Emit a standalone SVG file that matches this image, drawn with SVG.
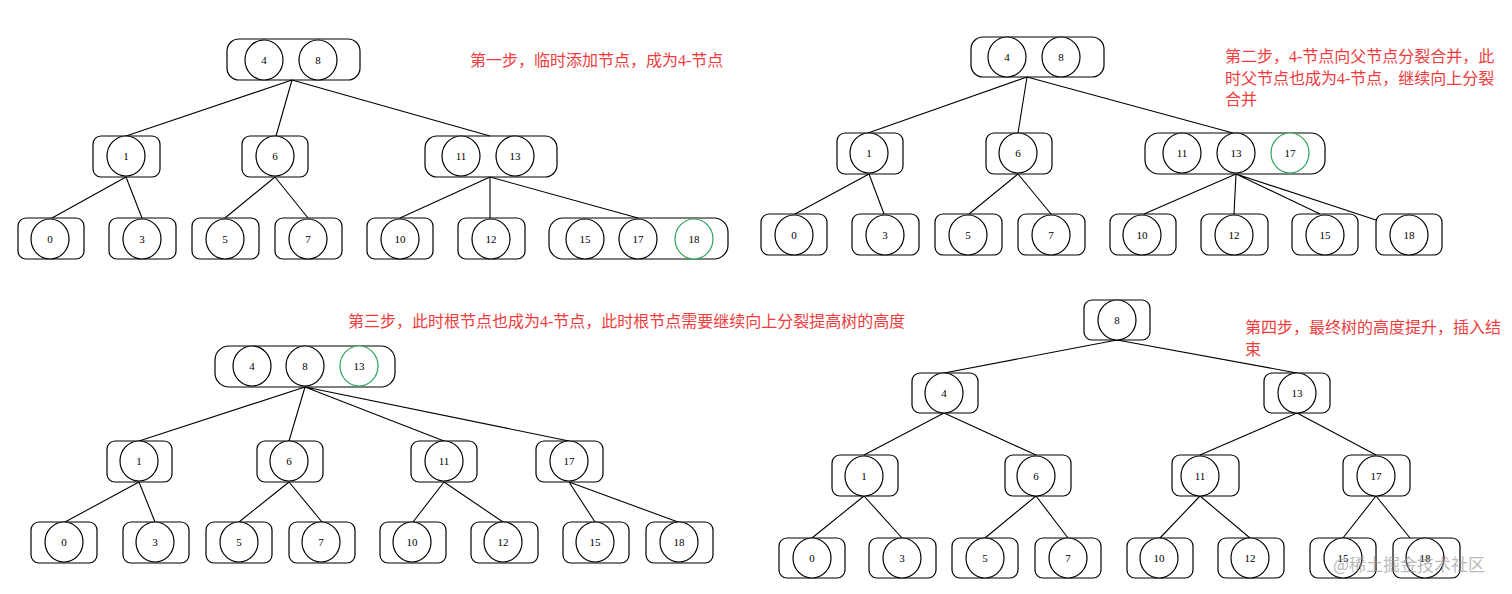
<svg xmlns="http://www.w3.org/2000/svg" width="1512" height="594" viewBox="0 0 1512 594">
<style>
.b{fill:none;stroke:#000;stroke-width:1.2}
.c{fill:#fff;stroke:#000;stroke-width:1.2}
.g{fill:#fff;stroke:#2aa55a;stroke-width:1.2}
.t{font-family:"Liberation Serif",serif;font-size:11px;text-anchor:middle;dominant-baseline:central}
.r{font-family:"Liberation Serif","Noto Sans CJK SC",serif;font-size:16px;fill:#f03c3c}
.e{stroke:#000;stroke-width:1.1;fill:none}
ellipse{rx:19px}
</style>
<rect width="1512" height="594" fill="#fff"/>
<g id="connectors">
<path class="e" d="M292 80L126 136M292 80L276 136M292 80L490 136M126 177L52 218M126 177L142 218M275 177L225 218M275 177L308 218M490 177L400 218M490 177L490 218M490 177L638 218"/>
<path class="e" d="M1027 77L868 133M1027 77L1018 133M1027 77L1233 133M869 174L795 214M869 174L884 214M1018 174L969 214M1018 174L1051 214M1236 174L1144 214M1236 174L1234 214M1236 174L1320 214M1236 174L1376 220"/>
<path class="e" d="M305 387L139 441M305 387L289 441M305 387L444 441M305 387L569 441M139 482L65 522M139 482L155 522M289 482L239 522M289 482L322 522M444 482L413 522M444 482L503 522M569 482L595 522M569 482L678 522"/>
<path class="e" d="M1117 340L944 373M1117 340L1297 373M944 413L864 455M944 413L1036 455M1297 413L1200 455M1297 413L1376 455M864 496L812 538M864 496L902 538M1036 496L985 538M1036 496L1068 538M1200 496L1160 538M1200 496L1250 538M1376 496L1343 538M1376 496L1410 538"/>
</g>
<text class="r" x="470" y="66">第一步，临时添加节点，成为4-节点</text>
<text class="r" x="1225" y="62">第二步，4-节点向父节点分裂合并，此</text>
<text class="r" x="1225" y="84">时父节点也成为4-节点，继续向上分裂</text>
<text class="r" x="1225" y="105">合并</text>
<text class="r" x="348" y="327">第三步，此时根节点也成为4-节点，此时根节点需要继续向上分裂提高树的高度</text>
<text class="r" x="1245" y="333">第四步，最终树的高度提升，插入结</text>
<text class="r" x="1245" y="355">束</text>
<!-- Panel 1 -->
<g id="p1-root"><rect class="b" x="227" y="39" width="133" height="41" rx="12"/><ellipse class="c" cx="264" cy="60" rx="19" ry="20"/><ellipse class="c" cx="318" cy="60" rx="19" ry="20"/><text class="t" x="264" y="60">4</text><text class="t" x="318" y="60">8</text></g>
<g id="p1-n1"><rect class="b" x="93" y="136" width="67" height="41" rx="8"/><ellipse class="c" cx="126" cy="156" rx="19" ry="20"/><text class="t" x="126" y="156">1</text></g>
<g id="p1-n6"><rect class="b" x="242" y="136" width="66" height="41" rx="8"/><ellipse class="c" cx="275" cy="156" rx="19" ry="20"/><text class="t" x="275" y="156">6</text></g>
<g id="p1-n11"><rect class="b" x="425" y="136" width="132" height="41" rx="12"/><ellipse class="c" cx="461" cy="156" rx="19" ry="20"/><ellipse class="c" cx="515" cy="156" rx="19" ry="20"/><text class="t" x="461" y="156">11</text><text class="t" x="515" y="156">13</text></g>
<g id="p1-n0"><rect class="b" x="18" y="218" width="66" height="41" rx="8"/><ellipse class="c" cx="50" cy="239" rx="19" ry="20"/><text class="t" x="50" y="239">0</text></g>
<g id="p1-n3"><rect class="b" x="109" y="218" width="67" height="41" rx="8"/><ellipse class="c" cx="142" cy="239" rx="19" ry="20"/><text class="t" x="142" y="239">3</text></g>
<g id="p1-n5"><rect class="b" x="192" y="218" width="67" height="41" rx="8"/><ellipse class="c" cx="225" cy="239" rx="19" ry="20"/><text class="t" x="225" y="239">5</text></g>
<g id="p1-n7"><rect class="b" x="275" y="218" width="67" height="41" rx="8"/><ellipse class="c" cx="308" cy="239" rx="19" ry="20"/><text class="t" x="308" y="239">7</text></g>
<g id="p1-n10"><rect class="b" x="367" y="218" width="66" height="41" rx="8"/><ellipse class="c" cx="400" cy="239" rx="19" ry="20"/><text class="t" x="400" y="239">10</text></g>
<g id="p1-n12"><rect class="b" x="458" y="218" width="67" height="41" rx="8"/><ellipse class="c" cx="491" cy="239" rx="19" ry="20"/><text class="t" x="491" y="239">12</text></g>
<g id="p1-n15"><rect class="b" x="549" y="218" width="179" height="41" rx="14"/><ellipse class="c" cx="585" cy="239" rx="19" ry="20"/><ellipse class="c" cx="638" cy="239" rx="19" ry="20"/><ellipse class="g" cx="694" cy="239" rx="20" ry="20"/><text class="t" x="585" y="239">15</text><text class="t" x="638" y="239">17</text><text class="t" x="694" y="239">18</text></g>
<!-- Panel 2 -->
<g id="p2-root"><rect class="b" x="971" y="37" width="133" height="40" rx="12"/><ellipse class="c" cx="1007" cy="57" rx="19" ry="20"/><ellipse class="c" cx="1061" cy="57" rx="19" ry="20"/><text class="t" x="1007" y="57">4</text><text class="t" x="1061" y="57">8</text></g>
<g id="p2-n1"><rect class="b" x="837" y="133" width="66" height="41" rx="8"/><ellipse class="c" cx="869" cy="153" rx="19" ry="20"/><text class="t" x="869" y="153">1</text></g>
<g id="p2-n6"><rect class="b" x="986" y="133" width="66" height="41" rx="8"/><ellipse class="c" cx="1018" cy="153" rx="19" ry="20"/><text class="t" x="1018" y="153">6</text></g>
<g id="p2-n11"><rect class="b" x="1145" y="133" width="180" height="41" rx="14"/><ellipse class="c" cx="1182" cy="153" rx="19" ry="20"/><ellipse class="c" cx="1236" cy="153" rx="19" ry="20"/><ellipse class="g" cx="1290" cy="153" rx="20" ry="20"/><text class="t" x="1182" y="153">11</text><text class="t" x="1236" y="153">13</text><text class="t" x="1290" y="153">17</text></g>
<g id="p2-n0"><rect class="b" x="761" y="214" width="66" height="41" rx="8"/><ellipse class="c" cx="794" cy="235" rx="19" ry="20"/><text class="t" x="794" y="235">0</text></g>
<g id="p2-n3"><rect class="b" x="852" y="214" width="67" height="41" rx="8"/><ellipse class="c" cx="885" cy="235" rx="19" ry="20"/><text class="t" x="885" y="235">3</text></g>
<g id="p2-n5"><rect class="b" x="935" y="214" width="67" height="41" rx="8"/><ellipse class="c" cx="968" cy="235" rx="19" ry="20"/><text class="t" x="968" y="235">5</text></g>
<g id="p2-n7"><rect class="b" x="1018" y="214" width="67" height="41" rx="8"/><ellipse class="c" cx="1051" cy="235" rx="19" ry="20"/><text class="t" x="1051" y="235">7</text></g>
<g id="p2-n10"><rect class="b" x="1110" y="214" width="66" height="41" rx="8"/><ellipse class="c" cx="1142" cy="235" rx="19" ry="20"/><text class="t" x="1142" y="235">10</text></g>
<g id="p2-n12"><rect class="b" x="1201" y="214" width="67" height="41" rx="8"/><ellipse class="c" cx="1234" cy="235" rx="19" ry="20"/><text class="t" x="1234" y="235">12</text></g>
<g id="p2-n15"><rect class="b" x="1292" y="214" width="66" height="41" rx="8"/><ellipse class="c" cx="1325" cy="235" rx="19" ry="20"/><text class="t" x="1325" y="235">15</text></g>
<g id="p2-n18"><rect class="b" x="1376" y="214" width="66" height="41" rx="8"/><ellipse class="c" cx="1409" cy="235" rx="19" ry="20"/><text class="t" x="1409" y="235">18</text></g>
<!-- Panel 3 -->
<g id="p3-root"><rect class="b" x="215" y="346" width="180" height="41" rx="14"/><ellipse class="c" cx="252" cy="366" rx="19" ry="20"/><ellipse class="c" cx="305" cy="366" rx="19" ry="20"/><ellipse class="g" cx="359" cy="366" rx="20" ry="20"/><text class="t" x="252" y="366">4</text><text class="t" x="305" y="366">8</text><text class="t" x="359" y="366">13</text></g>
<g id="p3-n1"><rect class="b" x="107" y="441" width="65" height="41" rx="8"/><ellipse class="c" cx="139" cy="461" rx="19" ry="20"/><text class="t" x="139" y="461">1</text></g>
<g id="p3-n6"><rect class="b" x="257" y="441" width="66" height="41" rx="8"/><ellipse class="c" cx="289" cy="461" rx="19" ry="20"/><text class="t" x="289" y="461">6</text></g>
<g id="p3-n11"><rect class="b" x="411" y="441" width="66" height="41" rx="8"/><ellipse class="c" cx="444" cy="461" rx="19" ry="20"/><text class="t" x="444" y="461">11</text></g>
<g id="p3-n17"><rect class="b" x="536" y="441" width="67" height="41" rx="8"/><ellipse class="c" cx="569" cy="461" rx="19" ry="20"/><text class="t" x="569" y="461">17</text></g>
<g id="p3-n0"><rect class="b" x="31" y="522" width="66" height="41" rx="8"/><ellipse class="c" cx="64" cy="542" rx="19" ry="20"/><text class="t" x="64" y="542">0</text></g>
<g id="p3-n3"><rect class="b" x="123" y="522" width="66" height="41" rx="8"/><ellipse class="c" cx="155" cy="542" rx="19" ry="20"/><text class="t" x="155" y="542">3</text></g>
<g id="p3-n5"><rect class="b" x="206" y="522" width="66" height="41" rx="8"/><ellipse class="c" cx="239" cy="542" rx="19" ry="20"/><text class="t" x="239" y="542">5</text></g>
<g id="p3-n7"><rect class="b" x="289" y="522" width="66" height="41" rx="8"/><ellipse class="c" cx="321" cy="542" rx="19" ry="20"/><text class="t" x="321" y="542">7</text></g>
<g id="p3-n10"><rect class="b" x="380" y="522" width="66" height="41" rx="8"/><ellipse class="c" cx="412" cy="542" rx="19" ry="20"/><text class="t" x="412" y="542">10</text></g>
<g id="p3-n12"><rect class="b" x="471" y="522" width="67" height="41" rx="8"/><ellipse class="c" cx="503" cy="542" rx="19" ry="20"/><text class="t" x="503" y="542">12</text></g>
<g id="p3-n15"><rect class="b" x="563" y="522" width="66" height="41" rx="8"/><ellipse class="c" cx="595" cy="542" rx="19" ry="20"/><text class="t" x="595" y="542">15</text></g>
<g id="p3-n18"><rect class="b" x="646" y="522" width="67" height="41" rx="8"/><ellipse class="c" cx="679" cy="542" rx="19" ry="20"/><text class="t" x="679" y="542">18</text></g>
<!-- Panel 4 -->
<g id="p4-n8"><rect class="b" x="1084" y="300" width="66" height="40" rx="8"/><ellipse class="c" cx="1117" cy="320" rx="19" ry="20"/><text class="t" x="1117" y="320">8</text></g>
<g id="p4-n4"><rect class="b" x="912" y="373" width="66" height="40" rx="8"/><ellipse class="c" cx="944" cy="393" rx="19" ry="20"/><text class="t" x="944" y="393">4</text></g>
<g id="p4-n13"><rect class="b" x="1264" y="373" width="66" height="40" rx="8"/><ellipse class="c" cx="1297" cy="393" rx="19" ry="20"/><text class="t" x="1297" y="393">13</text></g>
<g id="p4-n1"><rect class="b" x="832" y="455" width="66" height="41" rx="8"/><ellipse class="c" cx="864" cy="476" rx="19" ry="20"/><text class="t" x="864" y="476">1</text></g>
<g id="p4-n6"><rect class="b" x="1005" y="455" width="66" height="41" rx="8"/><ellipse class="c" cx="1036" cy="476" rx="19" ry="20"/><text class="t" x="1036" y="476">6</text></g>
<g id="p4-n11"><rect class="b" x="1172" y="455" width="67" height="41" rx="8"/><ellipse class="c" cx="1200" cy="476" rx="19" ry="20"/><text class="t" x="1200" y="476">11</text></g>
<g id="p4-n17"><rect class="b" x="1343" y="455" width="67" height="41" rx="8"/><ellipse class="c" cx="1376" cy="476" rx="19" ry="20"/><text class="t" x="1376" y="476">17</text></g>
<g id="p4-n0"><rect class="b" x="779" y="538" width="66" height="40" rx="8"/><ellipse class="c" cx="812" cy="558" rx="19" ry="20"/><text class="t" x="812" y="558">0</text></g>
<g id="p4-n3"><rect class="b" x="869" y="538" width="67" height="40" rx="8"/><ellipse class="c" cx="902" cy="558" rx="19" ry="20"/><text class="t" x="902" y="558">3</text></g>
<g id="p4-n5"><rect class="b" x="952" y="538" width="66" height="40" rx="8"/><ellipse class="c" cx="985" cy="558" rx="19" ry="20"/><text class="t" x="985" y="558">5</text></g>
<g id="p4-n7"><rect class="b" x="1035" y="538" width="66" height="40" rx="8"/><ellipse class="c" cx="1068" cy="558" rx="19" ry="20"/><text class="t" x="1068" y="558">7</text></g>
<g id="p4-n10"><rect class="b" x="1127" y="538" width="66" height="40" rx="8"/><ellipse class="c" cx="1159" cy="558" rx="20" ry="20"/><text class="t" x="1159" y="558">10</text></g>
<g id="p4-n12"><rect class="b" x="1218" y="538" width="66" height="40" rx="8"/><ellipse class="c" cx="1250" cy="558" rx="20" ry="20"/><text class="t" x="1250" y="558">12</text></g>
<g id="p4-n15"><rect class="b" x="1310" y="538" width="66" height="40" rx="8"/><ellipse class="c" cx="1343" cy="558" rx="20" ry="20"/><text class="t" x="1343" y="558">15</text></g>
<g id="p4-n18"><rect class="b" x="1393" y="538" width="67" height="40" rx="8"/><ellipse class="c" cx="1425" cy="558" rx="20" ry="20"/><text class="t" x="1425" y="558">18</text></g>
<text x="1333" y="571" font-family="'Noto Sans CJK SC',sans-serif" font-size="17" fill="#9a9a9a" fill-opacity="0.7">@稀土掘金技术社区</text>
</svg>
